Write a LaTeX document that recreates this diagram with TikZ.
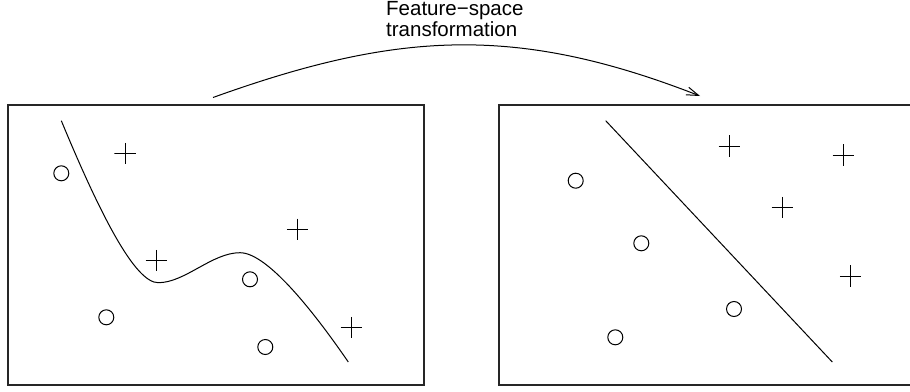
\documentclass[tikz,border=0pt]{standalone}
\usepackage{fontspec}
\setmainfont{Liberation Sans}
\usetikzlibrary{arrows.meta}
\begin{document}
\begin{tikzpicture}[x=1pt,y=-1pt,
  frame/.style={line width=1.3pt,draw=black!85},
  curveline/.style={line width=1pt,draw=black},
  circmark/.style={circle,draw=black,line width=1pt,minimum size=15pt,inner sep=0pt},
  plusmark/.style={draw=black,line width=1pt,minimum size=21.5pt,inner sep=0pt,
    path picture={\draw[line width=1pt] (path picture bounding box.north) -- (path picture bounding box.south)
      (path picture bounding box.west) -- (path picture bounding box.east);},draw=none},
  lbl/.style={font=\fontsize{20.5}{21.5}\selectfont,anchor=base west,inner sep=0pt}]
\useasboundingbox (0,0) rectangle (910,391);
% frames
\draw[frame] (8,105) rectangle (424,385);
\draw[frame] (911,105) -- (499,105) -- (499,385) -- (911,385);
% title
\node[lbl] (t1) at (386,15) {Feature−space};
\node[lbl] (t2) at (386,36) {transformation};
% transformation arrow
\coordinate (as) at (213,97.5);
\coordinate (ae) at (700,96);
\draw[curveline,-{Straight Barb[length=12pt,width=8pt,line width=1pt]}] (as) .. controls (397,31.3) and (516,24.2) .. (ae);
% left boundary curve
\coordinate (cs) at (61.3,120.7);
\coordinate (cmin) at (158.3,282.7);
\coordinate (cmax) at (240,252.7);
\coordinate (ce) at (348.3,362);
\draw[curveline] (cs) .. controls (100,214) and (135,283) .. (cmin)
  .. controls (185,282.7) and (212,252.7) .. (cmax)
  .. controls (268,252.7) and (316,315) .. (ce);
% left points
\node[circmark] (lc1) at (61.3,173.3) {};
\node[circmark] (lc2) at (106.3,317.3) {};
\node[circmark] (lc3) at (250,279.3) {};
\node[circmark] (lc4) at (265.3,347) {};
\node[plusmark] (lp1) at (125,153.7) {};
\node[plusmark] (lp2) at (156.3,260.7) {};
\node[plusmark] (lp3) at (297.7,229.3) {};
\node[plusmark] (lp4) at (351.3,327.7) {};
% right separating line
\coordinate (rs) at (605.7,120.7);
\coordinate (re) at (832.3,362);
\draw[curveline] (rs) -- (re);
% right points
\node[circmark] (rc1) at (575.7,180.7) {};
\node[circmark] (rc2) at (641.3,243.3) {};
\node[circmark] (rc3) at (734,309) {};
\node[circmark] (rc4) at (615.3,337.3) {};
\node[plusmark] (rp1) at (729.3,146) {};
\node[plusmark] (rp2) at (843.3,155) {};
\node[plusmark] (rp3) at (782.3,207.7) {};
\node[plusmark] (rp4) at (850.7,276) {};
\end{tikzpicture}
\end{document}
